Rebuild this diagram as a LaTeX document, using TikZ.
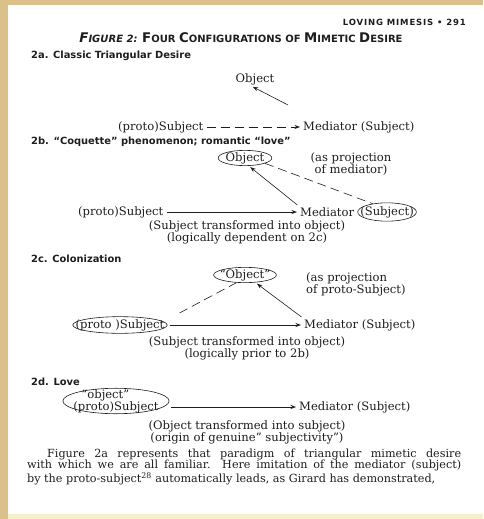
\documentclass[tikz,border=0pt]{standalone}
\usepackage{fontspec}
\setmainfont{DejaVu Serif}
\newfontfamily\headsans{DejaVu Sans}
\usetikzlibrary{positioning, shapes.geometric, arrows, arrows.meta}

\definecolor{ink}{HTML}{1E1E1E}
\definecolor{wood}{HTML}{DCC08A}
\definecolor{paleband}{HTML}{F6F0C8}
\newcommand{\fsc}[2]{{\fontsize{13.3}{14}\selectfont #1}{\fontsize{10}{11}\selectfont #2}}
\newcommand{\diag}{\fontsize{11.6}{12}\selectfont}

\begin{document}
\begin{tikzpicture}[x=1pt, y=-1pt,
        every node/.style={text=ink, inner sep=1pt},
        txt/.style={font=\diag},
        head/.style={font=\headsans\bfseries\fontsize{9.9}{11}\selectfont, anchor=west},
        circled/.style={ellipse, draw=ink, line width=0.6pt, font=\diag},
        link/.style={-{Stealth[length=5.5pt, width=4pt]}, draw=ink, line width=0.6pt, shorten >=2pt, shorten <=2pt},
        dashlink/.style={draw=ink, line width=0.6pt, dash pattern=on 9pt off 5pt}]
        \useasboundingbox (0,0) rectangle (483,519);
        \fill[wood] (0,0) rectangle (483,519);
        \fill[white] (8,5) rectangle (483,514);
        \fill[paleband] (8,514) rectangle (483,519);

        \node[font=\headsans\bfseries\fontsize{8.5}{9}\selectfont\addfontfeatures{LetterSpace=10}, anchor=east] (runhead) at (467,22) {LOVING MIMESIS • 291};
        \node[font=\headsans\bfseries] (title) at (241,38) {{\itshape\fsc{F}{IGURE} 2:} \fsc{F}{OUR} \fsc{C}{ONFIGURATIONS} \fsc{}{OF} \fsc{M}{IMETIC} \fsc{D}{ESIRE}};

        % 2a
        \node[head] (head_a) at (30,56) {2a. Classic Triangular Desire};
        \node[txt] (obj_a) at (255,79) {Object};
        \node[txt, anchor=west] (subj_a) at (117,127) {(proto)Subject};
        \node[txt, anchor=west] (med_a) at (302,127) {Mediator (Subject)};
        \coordinate (tail_a) at (288,105);
        \path
                (subj_a) edge [link, dashlink] (med_a)
                (tail_a) edge [link, shorten <=0pt] ([xshift=-4pt]obj_a.south);

        % 2b
        \node[head] (head_b) at (30,142) {2b. “Coquette” phenomenon; romantic “love”};
        \node[circled, inner sep=-0.3pt] (obj_b) at (245,158) {Object};
        \node[txt, align=center] (proj_b) at (351,164) {(as projection\\of mediator)};
        \node[txt, anchor=west] (subj_b) at (77,212) {(proto)Subject};
        \node[txt, anchor=west] (med_b) at (299,212) {Mediator};
        \node[circled, inner xsep=-6pt, inner ysep=0.8pt, right=2pt of med_b] (msubj_b) {(Subject)};
        \node[txt] (note_b) at (247,226) {(Subject transformed into object)};
        \node[txt, below=-1pt of note_b] (dep_b) {(logically dependent on 2c)};
        \path
                (subj_b) edge [link] (med_b)
                (med_b.north west) edge [link] (obj_b.-65)
                (obj_b.-15) edge [dashlink] (msubj_b.150);

        % 2c
        \node[head] (head_c) at (30,259) {2c. Colonization};
        \node[circled, inner xsep=-3pt, inner ysep=-0.3pt] (obj_c) at (245,275) {“Object”};
        \node[txt, align=left, anchor=west] (proj_c) at (305,284) {(as projection\\of proto-Subject)};
        \node[circled, inner xsep=-11pt, inner ysep=0.2pt] (subj_c) at (120,325) {(proto )Subject};
        \node[txt, anchor=west] (med_c) at (303,325) {Mediator (Subject)};
        \node[txt] (note_c) at (247,342) {(Subject transformed into object)};
        \node[txt, below=-1pt of note_c] (prior_c) {(logically prior to 2b)};
        \path
                (subj_c) edge [link] (med_c)
                (med_c.north west) edge [link] (obj_c.-36)
                ([xshift=12pt, yshift=12pt]subj_c.east) edge [dashlink] (obj_c.-138);

        % 2d
        \node[head] (head_d) at (30,382) {2d. Love};
        \node[circled, align=left, inner xsep=-5pt, inner ysep=-2.7pt] (subj_d) at (116,401) {\hspace*{8pt}“object”\\(proto)Subject};
        \node[txt, anchor=west] (med_d) at (298,407) {Mediator (Subject)};
        \node[txt] (note_d) at (247,426) {(Object transformed into subject)};
        \node[txt, below=-1pt of note_d] (orig_d) {(origin of genuine” subjectivity”)};
        \path (subj_d.east |- med_d.west) edge [link] (med_d.west);

        \node[anchor=north west, text width=434pt, align=justify, inner sep=0pt, font=\fontsize{11.2}{11.2}\selectfont] (para) at (27,449) {\parfillskip=0pt \hspace*{20pt}Figure 2a represents that paradigm of triangular mimetic desire\linebreak with which we are all familiar. Here imitation of the mediator (subject)\linebreak by the proto-subject\textsuperscript{28} automatically leads, as Girard has demonstrated,};
\end{tikzpicture}
\end{document}
